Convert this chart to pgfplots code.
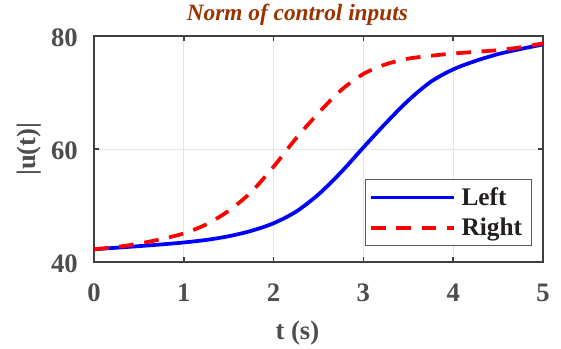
\documentclass[border=0pt]{standalone}
\usepackage{fontspec}
\setmainfont{Liberation Serif}
\usepackage{pgfplots}
\pgfplotsset{compat=1.18}
\definecolor{tickgray}{RGB}{77,77,77}
\definecolor{axgray}{RGB}{64,64,64}
\definecolor{titlebrown}{RGB}{153,51,0}
\definecolor{legtext}{RGB}{35,31,32}
\definecolor{myblue}{RGB}{0,0,255}
\definecolor{myred}{RGB}{255,0,0}
\begin{document}
\begin{tikzpicture}
\path[use as bounding box] (-70.5pt,-65pt) rectangle (350.25pt,196.7pt);
\begin{axis}[
  scale only axis,
  width=336.75pt, height=169.7pt,
  xmin=0, xmax=5, ymin=40, ymax=80,
  xtick={0,1,2,3,4,5}, ytick={40,60,80},
  minor tick num=0,
  tick align=inside,
  major tick length=4pt,
  tick style={axgray, line width=1.2pt},
  axis line style={axgray, line width=1.5pt},
  grid=major,
  grid style={gray!20, line width=0.6pt},
  /pgf/number format/assume math mode=true,
  tick label style={font=\fontsize{20}{24}\selectfont\bfseries, text=tickgray},
  xticklabel style={anchor=north, inner sep=0pt, yshift=-16pt},
  yticklabel style={anchor=east, inner sep=0pt, xshift=-12pt, yshift=-1pt},
  title={Norm of control inputs},
  title style={at={(axis description cs:0.453,1)}, anchor=south, inner sep=0pt, yshift=2pt,
     font=\fontsize{17.5}{20}\selectfont\bfseries\itshape, text=titlebrown},
  xlabel={t (s)},
  xlabel style={at={(axis description cs:0.453,0)}, anchor=north, inner sep=0pt, yshift=-43.8pt,
     font=\fontsize{20}{24}\selectfont\bfseries, text=tickgray},
  ylabel={|u(t)|},
  ylabel style={at={(axis description cs:-0.1158,0.5)}, anchor=south, inner sep=0pt,
     font=\fontsize{20}{24}\selectfont\bfseries, text=tickgray},
  legend style={at={(axis description cs:0.9755,0.0707)}, anchor=south east,
     draw=gray!70!black, line width=0.8pt, fill=white,
     font=\fontsize{19}{22}\selectfont\bfseries, text=legtext,
     inner xsep=3pt, inner ysep=4pt, row sep=4pt,
     nodes={inner xsep=4pt}},
  legend cell align=left,
  legend image code/.code={\draw[#1] (0cm,0cm) -- (2.2cm,0cm);},
]
\addplot[myblue, line width=2.8pt, smooth] coordinates {
(0,42.3) (0.25,42.57) (0.5,42.85) (0.75,43.15) (1,43.5) (1.25,43.95) (1.5,44.6)
(1.75,45.55) (2,46.9) (2.25,48.95) (2.5,52.0) (2.75,55.9) (3,60.3) (3.25,64.6)
(3.5,68.6) (3.75,71.9) (4,74.1) (4.25,75.6) (4.5,76.8) (4.75,77.7) (5,78.5)};
\addlegendentry{Left}
\addplot[myred, line width=2.8pt, smooth, dash pattern=on 11pt off 8pt] coordinates {
(0,42.3) (0.25,42.7) (0.5,43.3) (0.75,44.1) (1,45.1) (1.25,46.7) (1.5,49.1) (1.75,52.4)
(2,56.9) (2.25,61.9) (2.5,66.4) (2.75,70.4) (3,73.3) (3.25,75.0) (3.5,76.0)
(3.75,76.5) (4,76.9) (4.25,77.2) (4.5,77.5) (4.75,78.0) (5,78.7)};
\addlegendentry{Right}
\end{axis}
\end{tikzpicture}
\end{document}
